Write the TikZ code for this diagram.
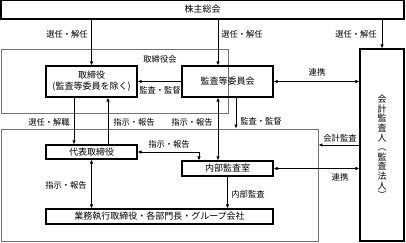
\documentclass[tikz,border=0pt]{standalone}
\usepackage{fontspec}
\setmainfont{Noto Sans CJK JP}
\usetikzlibrary{arrows.meta}

\begin{document}
\begin{tikzpicture}[x=1pt, y=-1pt]
    % Styles
    \tikzstyle{box} = [rectangle, draw, line width=1.1pt, inner sep=0pt, font=\fontsize{9}{11}\selectfont, align=center]
    \tikzstyle{group} = [rectangle, draw=black!55, line width=0.9pt, inner sep=0pt]
    \tikzstyle{lbl} = [inner sep=0pt, font=\fontsize{8.3}{10}\selectfont]
    \tikzstyle{arrow} = [line width=0.8pt, -{Latex[length=4pt,width=3.5pt]}]
    \tikzstyle{dblarrow} = [line width=0.8pt, {Latex[length=4pt,width=3.5pt]}-{Latex[length=4pt,width=3.5pt]}]

    \useasboundingbox (0,0) rectangle (406,243);

    % Groups
    \node (board) [group, minimum width=227, minimum height=64] at (114.5,81) {};
    \node (exec) [group, minimum width=317, minimum height=112] at (159.5,185) {};
    \node (boardlbl) [lbl] at (160,59) {取締役会};

    % Nodes
    \node (gsm) [box, minimum width=403, minimum height=19] at (202.5,9.5) {株主総会};
    \node (dir) [box, minimum width=91, minimum height=31] at (91.5,81.5) {取締役\\(監査等委員を除く)};
    \node (iac) [box, minimum width=91, minimum height=31] at (227.5,81.5) {監査等委員会};
    \node (acc) [box, minimum width=44, minimum height=192] at (382,145) {};
    \node (acctxt) [font=\fontsize{9}{9.6}\selectfont, align=center, inner sep=0pt] at (382,147)
        {会\\計\\監\\査\\人\\︵\\監\\査\\法\\人\\︶};
    \node (rep) [box, minimum width=91, minimum height=14] at (91.5,152) {代表取締役};
    \node (ia) [box, minimum width=91, minimum height=15] at (227.5,168.5) {内部監査室};
    \node (ops) [box, minimum width=227, minimum height=15] at (159.5,216.5) {業務執行取締役・各部門長・グループ会社};

    \coordinate (iacin) at ([xshift=-9.5pt]iac.north);
    \coordinate (iacout) at ([xshift=-9.5pt]iac.south);
    \coordinate (iacsup) at ([xshift=8.5pt]iac.south);
    \coordinate (iatop) at ([xshift=-28.5pt]ia.north);

    % Arrows
    \draw [arrow] (gsm.south -| dir.north) -- (dir.north);
    \draw [arrow] (gsm.south -| iacin) -- (iacin);
    \draw [arrow] (gsm.south -| acc.north) -- (acc.north);
    \draw [arrow] (iac.west) -- (dir.east);
    \draw [dblarrow] (iac.east) -- (iac.east -| acc.west);
    \draw [arrow] ([xshift=-17.5pt]dir.south) -- ([xshift=-17.5pt]rep.north);
    \draw [arrow] ([xshift=16.5pt]rep.north) -- ([xshift=16.5pt]dir.south);
    \draw [dblarrow] (iacout) -- (iacout |- ia.north);
    \draw [arrow] (iacsup) -- (iacsup |- exec.north);
    \draw [dblarrow] (rep.east) -| (iatop);
    \draw [dblarrow] (rep.south) -- (rep.south |- ops.north);
    \draw [arrow] (ia.south) -- (ia.south |- ops.north);
    \draw [arrow] (acc.west) -- (acc.west -| exec.east);
    \draw [dblarrow] (ia.east) -- (ia.east -| acc.west);

    % Labels
    \node (l1) [lbl] at (67,34) {選任・解任};
    \node (l2) [lbl] at (242,34) {選任・解任};
    \node (l3) [lbl] at (356,34) {選任・解任};
    \node (l4) [lbl] at (160,90) {監査・監督};
    \node (l5) [lbl] at (317,72) {連携};
    \node (l6) [lbl] at (49,122) {選任・解職};
    \node (l7) [lbl] at (134,122) {指示・報告};
    \node (l8) [lbl] at (192,122) {指示・報告};
    \node (l9) [lbl] at (261,121) {監査・監督};
    \node (l10) [lbl] at (169,144) {指示・報告};
    \node (l11) [lbl] at (66,185) {指示・報告};
    \node (l12) [lbl] at (248,194) {内部監査};
    \node (l13) [lbl] at (340,138) {会計監査};
    \node (l14) [lbl] at (340,177) {連携};
\end{tikzpicture}
\end{document}
